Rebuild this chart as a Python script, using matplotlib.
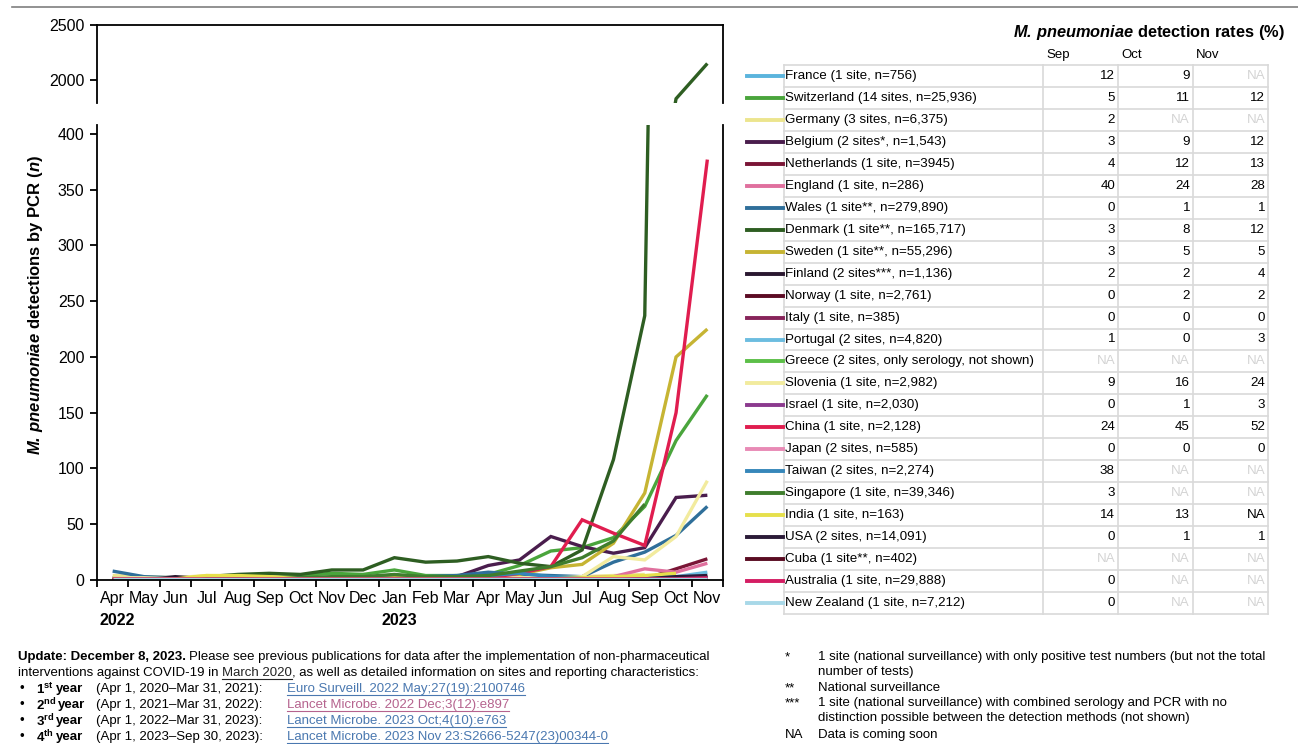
import numpy as np
import matplotlib
matplotlib.use('Agg')
import matplotlib.pyplot as plt
from matplotlib.lines import Line2D

plt.rcParams['font.family'] = ['Liberation Sans', 'DejaVu Sans']
plt.rcParams['mathtext.fontset'] = 'custom'
plt.rcParams['mathtext.rm'] = 'Liberation Sans'
plt.rcParams['mathtext.it'] = 'Liberation Sans:italic'
plt.rcParams['mathtext.bf'] = 'Liberation Sans:bold'
plt.rcParams['mathtext.bfit'] = 'Liberation Sans:italic:bold'

W, H = 1298, 744
na = np.nan

# months Apr 2022 .. Nov 2023
months = ['Apr', 'May', 'Jun', 'Jul', 'Aug', 'Sep', 'Oct', 'Nov', 'Dec', 'Jan',
          'Feb', 'Mar', 'Apr', 'May', 'Jun', 'Jul', 'Aug', 'Sep', 'Oct', 'Nov']
year_labels = ['2022', '2023']
year_pos = [0, 9]

# monthly PCR detections per country
france = [1, 1, 1, 1, 1, 1, 1, 1, 1, 1, 1, 2, 3, 4, 3, 2, 3, 3, 3, na]
switzerland = [1, 1, 1, 2, 3, 4, 4, 6, 5, 9, 4, 4, 5, 13, 26, 29, 38, 66, 125, 166]
germany = [4, 3, 2, 4, 3, 3, 2, 2, 2, 2, 2, 2, 2, 3, 3, 3, 4, 5, na, na]
belgium = [1, 1, 2, 1, 1, 1, 1, 2, 2, 2, 2, 3, 13, 18, 39, 30, 24, 29, 74, 76]
netherlands = [0, 0, 0, 0, 0, 0, 0, 0, 0, 0, 0, 0, 1, 1, 1, 1, 1, 1, 10, 19]
england = [0, 0, 1, 1, 1, 1, 1, 1, 1, 1, 1, 1, 2, 2, 2, 2, 3, 10, 7, 15]
wales = [8, 3, 2, 2, 2, 2, 2, 2, 2, 3, 3, 4, 7, 5, 4, 3, 16, 25, 40, 66]
denmark = [2, 1, 1, 3, 5, 6, 5, 9, 9, 20, 16, 17, 21, 15, 12, 27, 108, 237, 1830, 2150]
sweden = [0, 0, 0, 0, 0, 1, 1, 1, 1, 2, 2, 2, 3, 5, 11, 14, 33, 78, 200, 225]
finland = [0, 0, 3, 1, 0, 0, 0, 0, 0, 0, 0, 0, 0, 1, 1, 1, 1, 1, 2, 3]
norway = [0, 0, 0, 0, 0, 0, 0, 0, 0, 0, 0, 0, 0, 0, 0, 0, 0, 0, 1, 2]
italy = [0, 0, 0, 0, 0, 0, 0, 0, 0, 0, 0, 0, 0, 0, 0, 0, 0, 0, 0, 0]
portugal = [1, 1, 1, 1, 1, 1, 1, 1, 1, 1, 1, 1, 1, 1, 1, 1, 2, 2, 3, 7]
greece = [na] * 20
slovenia = [2, 2, 1, 2, 2, 1, 1, 1, 1, 1, 1, 1, 1, 2, 2, 3, 21, 18, 39, 89]
israel = [0, 0, 0, 0, 0, 0, 0, 0, 0, 0, 0, 0, 1, 1, 1, 1, 1, 1, 1, 2]
china = [0, 0, 0, 0, 0, 0, 0, 0, 0, 1, 1, 1, 2, 6, 12, 54, 42, 31, 150, 377]
japan = [0, 0, 0, 0, 0, 0, 0, 0, 0, 0, 0, 0, 0, 0, 0, 0, 1, 1, 1, 1]
taiwan = [1, 1, 1, 1, 1, 1, 1, 1, 1, 1, 2, 2, 4, 6, 3, 2, 2, 3, na, na]
singapore = [0, 0, 0, 1, 1, 2, 2, 3, 3, 5, 3, 3, 4, 8, 12, 20, 35, 68, na, na]
india = [1, 1, 1, 4, 4, 3, 1, 1, 1, 1, 1, 1, 1, 1, 1, 2, 3, 4, 6, na]
usa = [0, 0, 0, 0, 0, 0, 0, 0, 0, 0, 0, 0, 0, 0, 0, 0, 0, 1, 3, 4]
cuba = [0, 0, 0, 0, 0, 0, 0, 0, 0, 0, 0, 0, 0, 0, 0, 0, 0, 0, na, na]
australia = [1, 1, 1, 1, 1, 1, 1, 1, 1, 1, 1, 1, 1, 1, 1, 1, 1, 1, 1, 2]
new_zealand = [1, 1, 1, 1, 1, 1, 1, 1, 1, 1, 1, 1, 1, 1, 1, 1, 1, 1, 1, 1]

labels = ['France (1 site, n=756)', 'Switzerland (14 sites, n=25,936)',
          'Germany (3 sites, n=6,375)', 'Belgium (2 sites*, n=1,543)',
          'Netherlands (1 site, n=3945)', 'England (1 site, n=286)',
          'Wales (1 site**, n=279,890)', 'Denmark (1 site**, n=165,717)',
          'Sweden (1 site**, n=55,296)', 'Finland (2 sites***, n=1,136)',
          'Norway (1 site, n=2,761)', 'Italy (1 site, n=385)',
          'Portugal (2 sites, n=4,820)', 'Greece (2 sites, only serology, not shown)',
          'Slovenia (1 site, n=2,982)', 'Israel (1 site, n=2,030)',
          'China (1 site, n=2,128)', 'Japan (2 sites, n=585)',
          'Taiwan (2 sites, n=2,274)', 'Singapore (1 site, n=39,346)',
          'India (1 site, n=163)', 'USA (2 sites, n=14,091)',
          'Cuba (1 site**, n=402)', 'Australia (1 site, n=29,888)',
          'New Zealand (1 site, n=7,212)']
series = [france, switzerland, germany, belgium, netherlands, england, wales,
          denmark, sweden, finland, norway, italy, portugal, greece, slovenia,
          israel, china, japan, taiwan, singapore, india, usa, cuba, australia,
          new_zealand]
colors = ['#5bb4dd', '#4aa53c', '#ece58e', '#4a1d4d', '#7a1536', '#e0709e',
          '#2f6f9a', '#2e5e22', '#c6b433', '#2a1830', '#5c0b24', '#87245a',
          '#6cbde0', '#5cbf48', '#f2eb9e', '#8b3a8e', '#e01d4f', '#e88ab5',
          '#3687ba', '#3f7d2d', '#e6e04c', '#2b1b38', '#5a0c22', '#d41d63',
          '#a8d8e8']

# detection rates (%) table
sep_rate = ['12', '5', '2', '3', '4', '40', '0', '3', '3', '2', '0', '0', '1', 'NA',
            '9', '0', '24', '0', '38', '3', '14', '0', 'NA', '0', '0']
oct_rate = ['9', '11', 'NA', '9', '12', '24', '1', '8', '5', '2', '2', '0', '0', 'NA',
            '16', '1', '45', '0', 'NA', 'NA', '13', '1', 'NA', 'NA', 'NA']
nov_rate = ['NA', '12', 'NA', '12', '13', '28', '1', '12', '5', '4', '2', '0', '3', 'NA',
            '24', '3', '52', '0', 'NA', 'NA', 'NA*', '1', 'NA', 'NA', 'NA']


def fx(x):
    return x / W


def fy(y):
    return 1 - y / H


fig = plt.figure(figsize=(W / 100, H / 100), dpi=100)
renderer = fig.canvas.get_renderer()

ax_lo = fig.add_axes([fx(97), fy(580), (723 - 97) / W, (580 - 125) / H])
ax_hi = fig.add_axes([fx(97), fy(103), (723 - 97) / W, (103 - 25) / H])

x = np.arange(len(months))
for vals, col in zip(series, colors):
    for ax in (ax_lo, ax_hi):
        ax.plot(x, vals, color=col, lw=2.4, solid_capstyle='butt', solid_joinstyle='miter')

for ax in (ax_lo, ax_hi):
    ax.set_xlim(-0.5, 19.5)
    for s in ax.spines.values():
        s.set_linewidth(1.3)
    ax.tick_params(axis='y', direction='out', length=5, width=1.3, labelsize=11.5, pad=4)

ax_lo.set_ylim(0, 408)
ax_lo.set_yticks(np.arange(0, 401, 50))
ax_lo.spines['top'].set_visible(False)
ax_lo.set_xticks(np.arange(-0.5, 20, 1))
ax_lo.set_xticklabels([])
ax_lo.tick_params(axis='x', which='major', direction='out', length=5, width=1.3)
ax_lo.set_xticks(x, minor=True)
ax_lo.set_xticklabels(months, minor=True)
ax_lo.tick_params(axis='x', which='minor', length=0, labelsize=11.5, pad=8)
for p, yl in zip(year_pos, year_labels):
    ax_lo.text(p - 0.42, -0.088, yl, transform=ax_lo.get_xaxis_transform(),
               ha='left', va='center', fontsize=11.5, fontweight='bold')

fig.text(fx(36), fy(305),
         r'$\mathbfit{M.\,pneumoniae}$ detections by PCR ($\mathbfit{n}$)',
         rotation=90, ha='center', va='center', fontsize=12, fontweight='bold')

ax_hi.set_ylim(1791, 2500)
ax_hi.set_yticks([2000, 2500])
ax_hi.spines['bottom'].set_visible(False)
ax_hi.set_xticks([])

# top rule
fig.add_artist(Line2D([fx(12), fx(1298)], [fy(7), fy(7)], color='#7f7f7f', lw=1.2))

# ---- table ----
fig.text(fx(1285), fy(32), r'$\mathbfit{M.\,pneumoniae}$ detection rates (%)',
         ha='right', va='center', fontsize=11.8, fontweight='bold')
col_edges = [784, 1043, 1118, 1193, 1268]
for name, cx in zip(['Sep', 'Oct', 'Nov'], col_edges[1:4]):
    fig.text(fx(cx + 3), fy(55), name, ha='left', va='center', fontsize=9.5)

row_h = 21.96
top = 65
n_rows = len(labels)
grid_col = '#d9d9d9'
for k in range(n_rows + 1):
    yy = top + k * row_h
    fig.add_artist(Line2D([fx(col_edges[0]), fx(col_edges[-1])], [fy(yy), fy(yy)],
                          color=grid_col, lw=1.2))
for cx in col_edges:
    fig.add_artist(Line2D([fx(cx), fx(cx)], [fy(top), fy(top + n_rows * row_h)],
                          color=grid_col, lw=1.2))

for i, lab in enumerate(labels):
    yc = top + (i + 0.5) * row_h
    fig.add_artist(Line2D([fx(747), fx(783)], [fy(yc), fy(yc)], color=colors[i], lw=2.8))
    fig.text(fx(785), fy(yc), lab, ha='left', va='center', fontsize=9.6)
    for j, rates in enumerate([sep_rate, oct_rate, nov_rate]):
        v = rates[i]
        if v == 'NA*':
            fig.text(fx(col_edges[j + 2] - 3), fy(yc), 'NA', ha='right', va='center', fontsize=9.6)
        elif v == 'NA':
            fig.text(fx(col_edges[j + 2] - 3), fy(yc), 'NA', ha='right', va='center',
                     fontsize=9.6, color='#d4d4d4')
        else:
            fig.text(fx(col_edges[j + 2] - 3), fy(yc), v, ha='right', va='center', fontsize=9.6)


# ---- footer ----
def run(xp, yp, s, **kw):
    t = fig.text(fx(xp), fy(yp), s, ha='left', va='center', fontsize=9.5, **kw)
    return t.get_window_extent(renderer).x1


def link(xp, yp, s, col):
    x1 = run(xp, yp, s, color=col)
    fig.add_artist(Line2D([fx(xp), fx(x1)], [fy(yp + 6), fy(yp + 6)], color=col, lw=0.8))
    return x1


xe = run(18, 657, 'Update: December 8, 2023.', fontweight='bold')
run(xe + 3, 657, 'Please see previous publications for data after the implementation of non-pharmaceutical')
xe = run(18, 673, 'interventions against COVID-19 in ')
xe = link(xe, 673, 'March 2020', '#222222')
run(xe, 673, ', as well as detailed information on sites and reporting characteristics:')

ords = [r'$\mathbf{1^{st}}$', r'$\mathbf{2^{nd}}$', r'$\mathbf{3^{rd}}$', r'$\mathbf{4^{th}}$']
periods = ['(Apr 1, 2020\u2013Mar 31, 2021):', '(Apr 1, 2021\u2013Mar 31, 2022):',
           '(Apr 1, 2022\u2013Mar 31, 2023):', '(Apr 1, 2023\u2013Sep 30, 2023):']
refs = ['Euro Surveill. 2022 May;27(19):2100746', 'Lancet Microbe. 2022 Dec;3(12):e897',
        'Lancet Microbe. 2023 Oct;4(10):e763', 'Lancet Microbe. 2023 Nov 23:S2666-5247(23)00344-0']
ref_cols = ['#4a78b0', '#b5638e', '#4a78b0', '#4a78b0']
for i in range(4):
    yp = 689 + 16 * i
    run(19, yp, '\u2022')
    xe = run(36, yp, ords[i])
    run(xe + 2, yp, 'year', fontweight='bold')
    run(96, yp, periods[i])
    link(287, yp, refs[i], ref_cols[i])

notes_sym = ['*', '', '**', '***', '', 'NA']
notes_txt = ['1 site (national surveillance) with only positive test numbers (but not the total',
             'number of tests)', 'National surveillance',
             '1 site (national surveillance) with combined serology and PCR with no',
             'distinction possible between the detection methods (not shown)',
             'Data is coming soon']
notes_y = [657, 672, 688, 703, 718, 735]
for sym, txt, yp in zip(notes_sym, notes_txt, notes_y):
    run(785, yp, sym)
    run(818, yp, txt)

fig.savefig('out.png', dpi=100)
